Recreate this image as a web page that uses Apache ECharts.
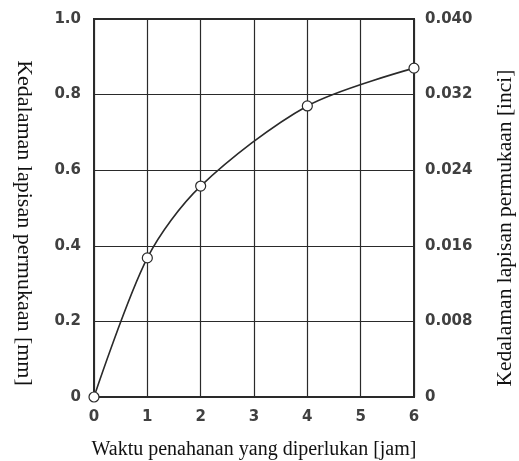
<!DOCTYPE html>
<html><head><meta charset="utf-8">
<script src="https://cdn.jsdelivr.net/npm/echarts@6/dist/echarts.min.js"></script>
<style>html,body{margin:0;padding:0;background:#fff}#c{width:519px;height:461px}</style>
</head><body><div id="c"></div>
<script>
const hours = [0, 1, 2, 4, 6];
const depthMm = [0, 0.368, 0.558, 0.77, 0.87];
const xTicks = [0, 1, 2, 3, 4, 5, 6];
const leftTicks = [0, 0.2, 0.4, 0.6, 0.8, 1.0];
const rightTicks = [0, 0.008, 0.016, 0.024, 0.032, 0.040];
const xName = 'Waktu penahanan yang diperlukan [jam]';
const leftName = 'Kedalaman lapisan permukaan [mm]';
const rightName = 'Kedalaman lapisan permukaan [inci]';

const chart = echarts.init(document.getElementById('c'), null, {renderer: 'canvas'});
const lineC = '#2a2a2a';
const tickFont = {fontFamily: 'DejaVu Sans', fontWeight: 'bold', fontSize: 15, color: '#404040'};
const nameFont = (s, pad) => ({fontFamily: 'Liberation Serif', fontSize: s, color: '#111', padding: pad});
chart.setOption({
  animation: false,
  grid: {left: 94, right: 105, top: 19, bottom: 64, show: true, borderColor: lineC, borderWidth: 2, outerBoundsMode: 'none', containLabel: false},
  xAxis: {
    type: 'value', min: 0, max: 6, interval: 1,
    name: xName, nameLocation: 'middle', nameGap: 43, nameTextStyle: nameFont(20, 0),
    axisLine: {show: true, lineStyle: {color: lineC, width: 2}},
    axisTick: {show: false},
    axisLabel: Object.assign({margin: 13, formatter: v => xTicks.includes(v) ? String(v) : ''}, tickFont),
    splitLine: {show: true, lineStyle: {color: lineC, width: 1.2}}
  },
  yAxis: [{
    type: 'value', min: 0, max: 1.0, interval: 0.2, position: 'left',
    name: leftName, nameLocation: 'middle', nameRotate: -90, nameGap: 59, nameTextStyle: nameFont(22, [0, 0, 0, 30]),
    axisLine: {show: true, lineStyle: {color: lineC, width: 2}},
    axisTick: {show: false},
    axisLabel: Object.assign({margin: 13, formatter: v => {
      const t = leftTicks.find(x => Math.abs(x - v) < 1e-9);
      return t === undefined ? '' : (t === 0 ? '0' : t.toFixed(1));
    }}, tickFont),
    splitLine: {show: true, lineStyle: {color: lineC, width: 1.2}}
  }, {
    type: 'value', min: 0, max: 0.04, interval: 0.008, position: 'right',
    name: rightName, nameLocation: 'middle', nameRotate: 90, nameGap: 80, nameTextStyle: nameFont(21.5, [0, 40, 0, 0]),
    axisLine: {show: true, lineStyle: {color: lineC, width: 2}},
    axisTick: {show: false},
    axisLabel: Object.assign({margin: 11, formatter: v => {
      const t = rightTicks.find(x => Math.abs(x - v) < 1e-9);
      return t === undefined ? '' : (t === 0 ? '0' : t.toFixed(3));
    }}, tickFont),
    splitLine: {show: false}
  }],
  series: [{
    type: 'line', yAxisIndex: 0,
    data: hours.map((h, i) => [h, depthMm[i]]),
    smooth: 0.3,
    lineStyle: {color: lineC, width: 1.6},
    symbol: 'circle', symbolSize: 10,
    itemStyle: {color: '#fff', borderColor: lineC, borderWidth: 1.2},
    clip: false
  }]
});
</script></body></html>
